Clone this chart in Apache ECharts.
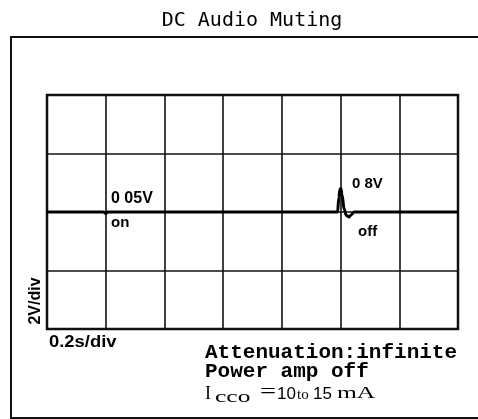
<!DOCTYPE html>
<html>
<head>
<meta charset="utf-8">
<script src="https://cdn.jsdelivr.net/npm/echarts@6/dist/echarts.min.js"></script>
<style>
  html, body { margin: 0; padding: 0; background: #fff; }
  #chart { width: 478px; height: 419px; }
</style>
</head>
<body>
<div id="chart"></div>
<script>
// Oscilloscope trace: time in seconds, level in volts
const timeSec = [0, 0.193, 0.200, 0.207, 0.990, 0.994, 0.998, 1.001, 1.005, 1.012, 1.020, 1.028, 1.036, 1.046, 1.4];
const voltsV  = [0, 0, -0.05, 0, 0, 0.5, 0.78, 0.8, 0.6, 0.1, -0.12, -0.17, -0.1, 0, 0];

// Screen scale: 0.2 s/div over 7 divisions, 2 V/div over 4 divisions
const timeTicks = [0, 0.2, 0.4, 0.6, 0.8, 1.0, 1.2, 1.4];
const voltTicks = [-4, -2, 0, 2, 4];

// Event annotations
const eventLabels = ['0 05V', 'on', '0 8V', 'off'];
const scaleLabels = ['2V/div', '0.2s/div'];
const noteLines = ['Attenuation:infinite', 'Power amp off'];

const traceData = timeSec.map((t, i) => [t, voltsV[i]]);

const chart = echarts.init(document.getElementById('chart'), null, { renderer: 'canvas' });

const boldSans = 'bold 16px "Liberation Sans", Arial, sans-serif';
const boldMono = 'bold 20px "Liberation Mono", "Courier New", monospace';
const serif = '"Liberation Serif", "Times New Roman", serif';

chart.setOption({
  animation: false,
  backgroundColor: '#ffffff',
  grid: {
    left: 47, top: 95, width: 411, height: 234,
    show: true, borderColor: '#111', borderWidth: 2.5, backgroundColor: 'transparent'
  },
  xAxis: {
    type: 'value',
    min: timeTicks[0], max: timeTicks[timeTicks.length - 1], interval: 0.2,
    axisLine: { show: false }, axisTick: { show: false }, axisLabel: { show: false },
    splitLine: { show: true, lineStyle: { color: '#111', width: 1.6 } }
  },
  yAxis: {
    type: 'value',
    min: voltTicks[0], max: voltTicks[voltTicks.length - 1], interval: 2,
    axisLine: { show: false }, axisTick: { show: false }, axisLabel: { show: false },
    splitLine: { show: true, lineStyle: { color: '#111', width: 1.6 } }
  },
  series: [{
    type: 'line',
    data: traceData,
    showSymbol: false,
    smooth: 0.3,
    smoothMonotone: 'x',
    lineStyle: { color: '#000', width: 3, join: 'round' }
  }],
  graphic: [
    // outer frame
    { type: 'rect', shape: { x: 11, y: 37, width: 500, height: 381 },
      style: { fill: 'none', stroke: '#111', lineWidth: 2 }, silent: true },
    // title
    { type: 'text', x: 252, y: 21,
      style: { text: 'DC Audio Muting', font: '20px "DejaVu Sans Mono", monospace',
               fill: '#000', align: 'center', verticalAlign: 'middle' } },
    // event labels
    { type: 'text', x: 111, y: 199,
      style: { text: eventLabels[0], font: boldSans, fill: '#000', verticalAlign: 'middle' } },
    { type: 'text', x: 111, y: 223,
      style: { text: eventLabels[1], font: 'bold 15px "Liberation Sans", Arial, sans-serif', fill: '#000', verticalAlign: 'middle' } },
    { type: 'text', x: 352, y: 184,
      style: { text: eventLabels[2], font: 'bold 15px "Liberation Sans", Arial, sans-serif', fill: '#000', verticalAlign: 'middle' } },
    { type: 'text', x: 358, y: 232,
      style: { text: eventLabels[3], font: 'bold 15px "Liberation Sans", Arial, sans-serif', fill: '#000', verticalAlign: 'middle' } },
    // scale labels
    { type: 'text', x: 36, y: 301, rotation: Math.PI / 2,
      style: { text: scaleLabels[0], font: boldSans, fill: '#000', align: 'center', verticalAlign: 'middle' } },
    { type: 'text', x: 49, y: 342.5, scaleX: 1.15,
      style: { text: scaleLabels[1], font: boldSans, fill: '#000', verticalAlign: 'middle' } },
    // notes
    { type: 'text', x: 205, y: 352.5, scaleX: 1.05,
      style: { text: noteLines[0], font: boldMono, fill: '#000', verticalAlign: 'middle' } },
    { type: 'text', x: 205, y: 372, scaleX: 1.05,
      style: { text: noteLines[1], font: boldMono, fill: '#000', verticalAlign: 'middle' } },
    // supply current line
    { type: 'text', x: 205, y: 394,
      style: { text: 'I', font: '18px ' + serif, fill: '#000', verticalAlign: 'middle' } },
    { type: 'text', x: 215, y: 398, scaleX: 1.5,
      style: { text: 'cco', font: '17px ' + serif, fill: '#000', verticalAlign: 'middle' } },
    { type: 'text', x: 260, y: 392, scaleX: 1.3,
      style: { text: '=', font: '22px ' + serif, fill: '#000', verticalAlign: 'middle' } },
    { type: 'text', x: 277, y: 394,
      style: { text: '10', font: '17px "Liberation Sans", Arial, sans-serif', fill: '#000', verticalAlign: 'middle' } },
    { type: 'text', x: 297, y: 395,
      style: { text: 'to', font: '15px ' + serif, fill: '#000', verticalAlign: 'middle' } },
    { type: 'text', x: 313, y: 394,
      style: { text: '15', font: '17px "Liberation Sans", Arial, sans-serif', fill: '#000', verticalAlign: 'middle' } },
    { type: 'text', x: 337, y: 394, scaleX: 1.5,
      style: { text: 'mA', font: '17px ' + serif, fill: '#000', verticalAlign: 'middle' } }
  ]
});
</script>
</body>
</html>
